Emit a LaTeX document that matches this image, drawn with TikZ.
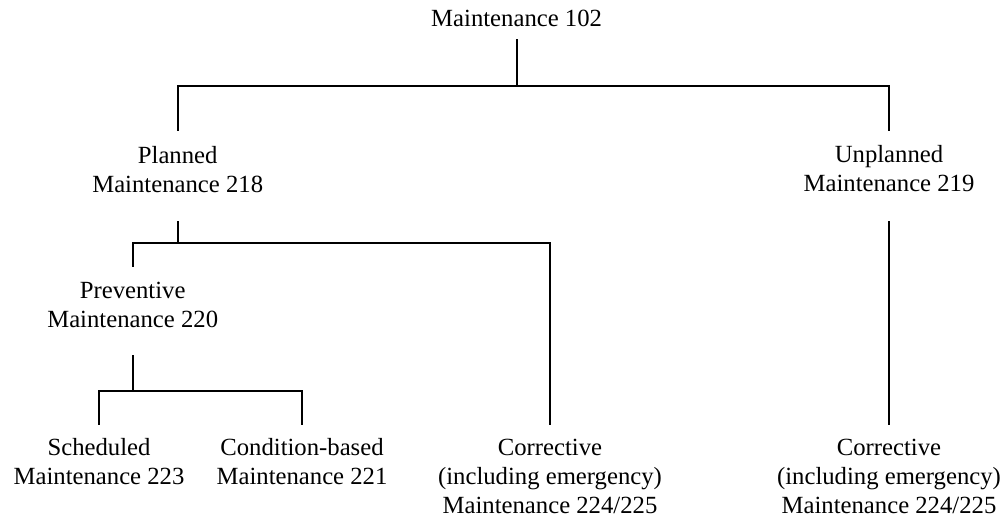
\documentclass[tikz,border=0pt]{standalone}
\usepackage{fontspec}
\setmainfont{Liberation Serif}
\begin{document}
\begin{tikzpicture}[x=1pt,y=-1pt,
  label/.style={anchor=north,align=center,inner sep=0pt,
    font=\fontsize{24.7}{29}\selectfont},
  conn/.style={line width=1.8pt,line join=miter,line cap=rect}]
\useasboundingbox (0,0) rectangle (1002,518);
% struts: 20pt above the first baseline, 6pt below the last one
\newcommand{\topstrut}{\rule{0pt}{20pt}}
\newcommand{\botstrut}{\rule[-6pt]{0pt}{6pt}}

\node[label] (root) at (516.6,6.5) {\topstrut Maintenance 102\botstrut};
\node[label] (planned) at (177.7,143) {\topstrut Planned\\Maintenance 218\botstrut};
\node[label] (unplanned) at (889,142.5) {\topstrut Unplanned\\Maintenance 219\botstrut};
\node[label] (preventive) at (132.7,278.5) {\topstrut Preventive\\Maintenance 220\botstrut};
\node[label] (sched) at (99,435) {\topstrut Scheduled\\Maintenance 223\botstrut};
\node[label] (cond) at (302,435) {\topstrut Condition-based\\Maintenance 221\botstrut};
\node[label] (corr1) at (550,435) {\topstrut Corrective\\(including emergency)\\Maintenance 224/225\botstrut};
\node[label] (corr2) at (889,435) {\topstrut Corrective\\(including emergency)\\Maintenance 224/225\botstrut};

% branch points, each directly below its parent
\coordinate (j0) at (root.south |- 0,86);
\coordinate (j1) at (planned.south |- 0,243);
\coordinate (j2) at (preventive.south |- 0,391);

\draw[conn] ([yshift=-7.5pt]root.south) -- (j0);
\draw[conn] ([yshift=13pt]planned.north) |- (j0) -| ([yshift=12pt]unplanned.north);

\draw[conn] ([yshift=-24pt]planned.south) -- (j1);
\draw[conn] ([yshift=12.5pt]preventive.north) |- (j1) -| ([yshift=11pt]corr1.north);

\draw[conn] ([yshift=-22.5pt]preventive.south) -- (j2);
\draw[conn] ([yshift=11pt]sched.north) |- (j2) -| ([yshift=11pt]cond.north);

\draw[conn] ([yshift=-24pt]unplanned.south) -- ([yshift=11pt]corr2.north);
\end{tikzpicture}
\end{document}
